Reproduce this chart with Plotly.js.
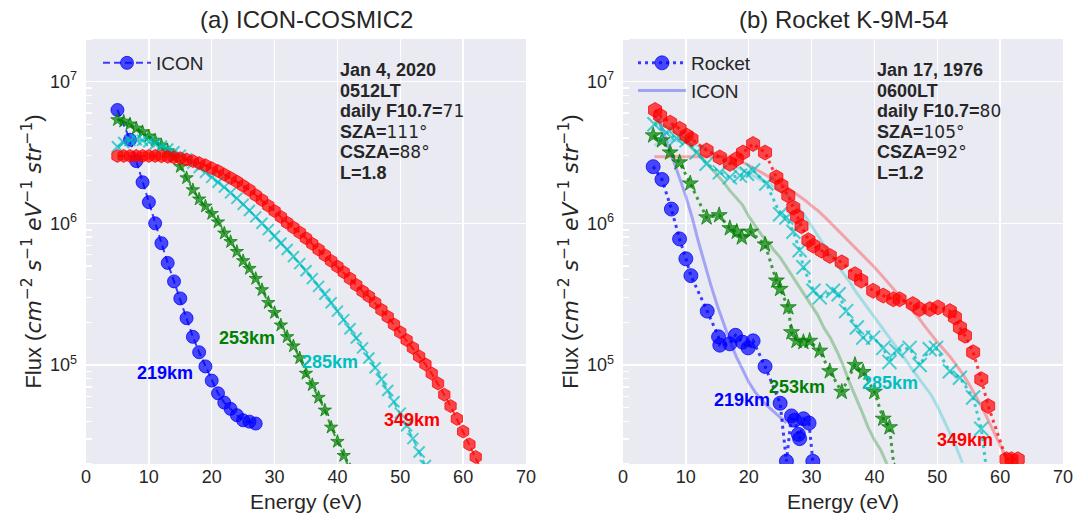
<!DOCTYPE html>
<html><head><meta charset="utf-8">
<script src="https://cdn.plot.ly/plotly-3.0.1.min.js"></script>
<style>html,body{margin:0;padding:0;background:#fff}#chart{width:1088px;height:520px}</style>
</head><body><div id="chart"></div><script>
// ---------- (a) ICON-COSMIC2 : ICON profiles ----------
const iconA_219_E = [5,7,8,9,10,11,12,13,14,15,16,17,18,19,20,21,22,23,24,25,26,27];
const iconA_219_F = [6.31e6,3.89e6,2.75e6,1.95e6,1.41e6,1.0e6,7.24e5,5.25e5,3.89e5,2.95e5,2.14e5,1.58e5,1.23e5,9.77e4,7.76e4,6.31e4,5.43e4,4.9e4,4.42e4,4.07e4,3.98e4,3.86e4];
const iconA_253_E = [5,6,7,8,9,10,11,12,13,14,15,16,17,18,19,20,21,22,23,24,25,26,27,28,29,30,31,32,33,34,35,36,37,38,39,40,41,42];
const iconA_253_F = [5.37e6,5.25e6,5.01e6,4.68e6,4.42e6,4.12e6,3.85e6,3.55e6,3.24e6,2.95e6,2.51e6,2.09e6,1.72e6,1.48e6,1.32e6,1.17e6,1.02e6,8.51e5,7.41e5,6.31e5,5.43e5,4.79e5,4.07e5,3.39e5,2.75e5,2.34e5,1.91e5,1.58e5,1.36e5,1.12e5,8.71e4,7.24e4,5.89e4,4.79e4,3.63e4,2.88e4,2.29e4,1.82e4];
const iconA_285_E = [5,6,7,8,9,10,11,12,13,14,15,16,17,18,19,20,21,22,23,24,25,26,27,28,29,30,31,32,33,34,35,36,37,38,39,40,41,42,43,44,45,46,47,48,49,50,51,52,53,54];
const iconA_285_F = [3.47e6,3.72e6,3.85e6,3.89e6,3.85e6,3.76e6,3.63e6,3.51e6,3.35e6,3.2e6,3.02e6,2.85e6,2.66e6,2.48e6,2.29e6,2.11e6,1.95e6,1.8e6,1.64e6,1.5e6,1.36e6,1.23e6,1.11e6,1.0e6,9.02e5,8.13e5,7.24e5,6.53e5,5.82e5,5.19e5,4.62e5,4.07e5,3.59e5,3.16e5,2.75e5,2.4e5,2.09e5,1.8e5,1.55e5,1.32e5,1.12e5,9.55e4,7.94e4,6.61e4,5.5e4,4.57e4,3.72e4,3.02e4,2.43e4,1.95e4];
const iconA_349_E = [5,6,7,8,9,10,11,12,13,14,15,16,17,18,19,20,21,22,23,24,25,26,27,28,29,30,31,32,33,34,35,36,37,38,39,40,41,42,43,44,45,46,47,48,49,50,51,52,53,54,55,56,57,58,59,60,61,62,63];
const iconA_349_F = [2.99e6,2.99e6,2.99e6,2.99e6,2.99e6,2.99e6,2.99e6,2.97e6,2.95e6,2.92e6,2.88e6,2.82e6,2.75e6,2.66e6,2.57e6,2.45e6,2.34e6,2.21e6,2.09e6,1.97e6,1.84e6,1.72e6,1.58e6,1.46e6,1.33e6,1.22e6,1.11e6,1.01e6,9.33e5,8.61e5,7.85e5,7.16e5,6.53e5,5.96e5,5.43e5,4.95e5,4.52e5,4.07e5,3.67e5,3.31e5,3.05e5,2.75e5,2.45e5,2.19e5,1.93e5,1.7e5,1.5e5,1.32e5,1.15e5,1.01e5,8.71e4,7.41e4,6.17e4,5.13e4,4.17e4,3.39e4,2.75e4,2.24e4,1.78e4];

// ---------- (b) Rocket K-9M-54 : ICON profiles ----------
const iconB_219_E = [5,6,7,8,9,10,11,12,13,14,15,16,17,18,19,20,21,22,23,24,25,26];
const iconB_219_F = [5.75e6,5.01e6,3.72e6,2.82e6,2.09e6,1.55e6,1.1e6,7.41e5,5.13e5,3.63e5,2.63e5,1.95e5,1.48e5,1.15e5,9.33e4,7.59e4,6.46e4,5.69e4,5.13e4,4.68e4,4.32e4,3.9e4];
const iconB_253_E = [5,6,7,8,9,10,11,12,13,14,15,16,17,18,19,20,21,22,23,24,25,26,27,28,29,30,31,32,33,34,35,36,37,38,39,40,41,42];
const iconB_253_F = [5.25e6,5.01e6,4.79e6,4.47e6,4.07e6,3.72e6,3.39e6,3.09e6,2.75e6,2.45e6,2.19e6,1.95e6,1.7e6,1.51e6,1.35e6,1.12e6,9.55e5,8.32e5,7.41e5,6.46e5,5.75e5,4.9e5,4.17e5,3.55e5,3.09e5,2.63e5,2.24e5,1.82e5,1.55e5,1.26e5,1.0e5,7.59e4,6.03e4,4.68e4,3.63e4,2.95e4,2.51e4,2.0e4];
const iconB_285_E = [5,6,7,8,9,10,11,12,13,14,15,16,17,18,19,20,21,22,23,24,25,26,27,28,29,30,31,32,33,34,35,36,37,38,39,40,41,42,43,44,45,46,47,48,49,50,51,52,53,54];
const iconB_285_F = [3.55e6,3.72e6,3.8e6,3.85e6,3.8e6,3.72e6,3.63e6,3.51e6,3.39e6,3.24e6,3.05e6,2.88e6,2.69e6,2.51e6,2.37e6,2.24e6,2.11e6,2.02e6,1.93e6,1.82e6,1.72e6,1.6e6,1.45e6,1.26e6,1.12e6,9.55e5,8.13e5,6.92e5,5.89e5,5.13e5,4.47e5,3.89e5,3.31e5,2.88e5,2.51e5,2.19e5,1.91e5,1.66e5,1.45e5,1.26e5,1.08e5,9.33e4,8.13e4,7.16e4,6.17e4,5.13e4,4.17e4,3.31e4,2.63e4,2.04e4];
const iconB_349_E = [5,6,7,8,9,10,11,12,13,14,15,16,17,18,19,20,21,22,23,24,25,26,27,28,29,30,31,32,33,34,35,36,37,38,39,40,41,42,43,44,45,46,47,48,49,50,51,52,53,54,55,56,57,58,59,60,61,62];
const iconB_349_F = [2.95e6,2.95e6,2.95e6,2.95e6,2.95e6,2.95e6,2.95e6,2.95e6,2.95e6,2.95e6,2.95e6,2.95e6,2.95e6,2.85e6,2.72e6,2.57e6,2.43e6,2.29e6,2.16e6,2.04e6,1.93e6,1.8e6,1.68e6,1.57e6,1.45e6,1.33e6,1.23e6,1.12e6,1.01e6,9.12e5,8.32e5,7.5e5,6.76e5,6.1e5,5.43e5,4.9e5,4.37e5,3.89e5,3.47e5,3.09e5,2.75e5,2.45e5,2.16e5,1.88e5,1.64e5,1.45e5,1.29e5,1.15e5,1.0e5,8.71e4,7.41e4,6.17e4,5.13e4,4.17e4,3.39e4,2.75e4,2.19e4,1.74e4];

// ---------- (b) Rocket K-9M-54 : rocket measurements ----------
const rock_219_E = [4.8,6.2,7.7,9.0,10.0,10.8,13.4,15.2,15.4,17.0,17.9,19.0,19.9,20.7,22.6,25.0,26.0,26.8,27.3,27.9,28.1,28.7,29.6,30.2];
const rock_219_F = [2.51e6,2.04e6,1.26e6,7.76e5,5.62e5,4.27e5,2.4e5,1.58e5,1.38e5,1.41e5,1.62e5,1.45e5,1.32e5,1.48e5,9.77e4,5.37e4,2.09e4,4.37e4,4.07e4,3.24e4,3.02e4,4.17e4,3.89e4,2.09e4];
const rock_253_E = [4.8,6.2,7.5,9.0,10.7,13.3,15.3,17.0,18.1,18.9,20.3,22.6,24.4,25.0,26.3,26.8,27.6,28.7,29.7,31.3,32.9,34.8,36.9,38.2,40.0,41.4,42.4,43.2];
const rock_253_F = [4.17e6,3.85e6,3.16e6,2.69e6,1.91e6,1.1e6,1.14e6,9.23e5,8.71e5,7.94e5,8.71e5,7.08e5,3.94e5,3.44e5,2.55e5,1.7e5,1.48e5,1.45e5,1.48e5,1.26e5,9.02e4,6.46e4,1.0e5,8.91e4,6.46e4,4.17e4,3.63e4,1.78e4];
const rock_285_E = [5.0,6.9,8.5,10.1,11.7,13.3,15.4,17.0,18.6,19.7,20.7,22.8,25.0,26.0,27.1,28.1,28.7,30.3,31.3,33.4,34.3,35.5,37.2,38.2,39.8,41.4,42.4,43.5,45.6,47.2,48.8,49.8,52.0,53.6,55.7,57.0,58.0];
const rock_285_F = [5.01e6,4.37e6,3.98e6,3.85e6,3.16e6,2.63e6,2.29e6,2.11e6,2.17e6,2.24e6,2.36e6,1.91e6,1.16e6,1.1e6,8.71e5,6.46e5,4.9e5,3.34e5,3.0e5,3.34e5,3.16e5,2.4e5,1.84e5,1.56e5,1.56e5,1.32e5,1.05e5,1.26e5,1.32e5,1.0e5,1.29e5,1.32e5,9.02e4,8.13e4,5.89e4,3.55e4,1.58e4];
const rock_349_E = [5.1,5.9,7.5,9.0,10.1,10.9,13.3,15.4,17.0,18.1,19.1,20.7,22.6,24.4,25.2,26.3,27.1,27.7,28.4,29.5,30.3,31.6,32.9,34.8,36.9,37.9,39.8,41.4,43.0,44.0,46.1,47.2,48.8,50.1,52.0,52.8,53.6,54.4,55.7,57.0,58.1,61.0,61.8,62.8];
const rock_349_F = [6.31e6,5.75e6,5.13e6,4.65e6,4.17e6,3.94e6,3.27e6,2.92e6,2.63e6,2.85e6,3.16e6,3.63e6,3.16e6,2.11e6,1.85e6,1.57e6,1.29e6,1.12e6,9.55e5,7.59e5,6.95e5,6.41e5,5.89e5,5.3e5,4.37e5,3.94e5,3.34e5,3.09e5,2.91e5,2.91e5,2.69e5,2.48e5,2.48e5,2.55e5,2.4e5,2.17e5,1.84e5,1.61e5,1.23e5,7.94e4,5.13e4,2.16e4,2.16e4,2.16e4];

// ---------- text ----------
const panelTitles = ['(a) ICON-COSMIC2', '(b) Rocket K-9M-54'];
const altLabels = ['219km', '253km', '285km', '349km'];
const infoA = [['Jan 4, 2020',''],['0512LT',''],['daily F10.7=','71'],['SZA=','111°'],['CSZA=','88°'],['L=1.8','']];
const infoB = [['Jan 17, 1976',''],['0600LT',''],['daily F10.7=','80'],['SZA=','105°'],['CSZA=','92°'],['L=1.2','']];
const yTickVals = [1e5, 1e6, 1e7];
const yTickText = ['10<sup>5</sup>', '10<sup>6</sup>', '10<sup>7</sup>'];

// ---------- geometry (pixels) ----------
const W = 1088, H = 520;
const L1 = 86, R1 = 526, L2 = 623, R2 = 1063, T = 39, B = 464;
const px = v => v / W, py = v => (H - v) / H;

const C = {b:[0,0,255], g:[0,128,0], c:[0,191,191], r:[255,0,0]};
const rgba = (k,a) => `rgba(${C[k][0]},${C[k][1]},${C[k][2]},${a})`;
const TXT = '#262626';
const FONT = 'Liberation Sans, Arial, sans-serif';
const MATH = 'font-family:DejaVu Sans;font-style:italic';
const MNUM = 'font-family:DejaVu Sans';

function iconA(x, y, k, sym, size, name, show){
  const isX = sym === 'x-thin';
  return {x, y, xaxis:'x', yaxis:'y', type:'scatter', mode:'lines+markers', name, showlegend:show, legend:'legend',
    line:{color:rgba(k,0.75), width:2, dash:'7px,4px'},
    marker:{symbol:sym, size, color:rgba(k,0.7), line:{color:rgba(k,isX?0.7:0.75), width:isX?2:1}}};
}
function iconB(x, y, k, name, show){
  return {x, y, xaxis:'x2', yaxis:'y2', type:'scatter', mode:'lines', name, showlegend:show, legend:'legend2',
    line:{color:rgba(k,0.3), width:3}};
}
function rock(x, y, k, sym, size, name, show){
  const isX = sym === 'x-thin';
  return {x, y, xaxis:'x2', yaxis:'y2', type:'scatter', mode:'lines+markers', name, showlegend:show, legend:'legend2',
    line:{color:rgba(k,0.75), width:3, dash:'3px,4px'},
    marker:{symbol:sym, size, color:rgba(k,0.7), line:{color:rgba(k,isX?0.7:0.75), width:isX?2:1}}};
}

const data = [
  iconA(iconA_219_E, iconA_219_F, 'b', 'circle', 13, 'ICON', true),
  iconA(iconA_253_E, iconA_253_F, 'g', 'star', 10, '253', false),
  iconA(iconA_285_E, iconA_285_F, 'c', 'x-thin', 11, '285', false),
  iconA(iconA_349_E, iconA_349_F, 'r', 'hexagon', 13, '349', false),
  rock(rock_219_E, rock_219_F, 'b', 'circle', 14, 'Rocket', true),
  iconB(iconB_219_E, iconB_219_F, 'b', 'ICON', true),
  iconB(iconB_253_E, iconB_253_F, 'g', 'ICON253', false),
  iconB(iconB_285_E, iconB_285_F, 'c', 'ICON285', false),
  iconB(iconB_349_E, iconB_349_F, 'r', 'ICON349', false),
  rock(rock_253_E, rock_253_F, 'g', 'star', 12, 'R253', false),
  rock(rock_285_E, rock_285_F, 'c', 'x-thin', 14, 'R285', false),
  rock(rock_349_E, rock_349_F, 'r', 'hexagon', 15, 'R349', false)
];

const minorVals = [];
for (const d of [1e4,1e5,1e6,1e7]) for (let m=2;m<=9;m++) minorVals.push(m*d);

const m = s => '<span style="'+MATH+'">'+s+'</span>';
const sup = s => '<sup><span style="'+MNUM+'">'+s+'</span></sup>';
const yTitle = 'Flux (' + m('cm') + sup('−2') + ' ' + m('s') + sup('−1') + ' ' + m('eV') + sup('−1') + ' ' + m('str') + sup('−1') + ')';
function yax(anchor){
  return {type:'log', range:[Math.log10(2e4), Math.log10(2e7)], tickmode:'array', tickvals:yTickVals, ticktext:yTickText,
    domain:[py(B), py(T)], anchor, showgrid:true, gridcolor:'#ffffff', gridwidth:1.3, zeroline:false, showline:false,
    ticks:'', ticklabelstandoff:8, tickfont:{family:FONT, size:18, color:TXT},
    minor:{tickmode:'array', tickvals:minorVals, ticks:'inside', ticklen:6, tickwidth:1.5, tickcolor:'#ffffff', showgrid:false},
    title:{text:yTitle, font:{family:FONT, size:22, color:TXT}, standoff:2}};
}
function xax(l, r, anchor){
  return {range:[0,70], dtick:10, domain:[px(l), px(r)], anchor, showgrid:true, gridcolor:'#ffffff', gridwidth:1.3,
    zeroline:false, showline:false, ticks:'', tickfont:{family:FONT, size:18, color:TXT},
    title:{text:'Energy (eV)', font:{family:FONT, size:21, color:TXT}, standoff:8}};
}

const annotations = [];
function addText(text, x, y, color, size, anchor, bold){
  annotations.push({text: bold ? '<b>'+text+'</b>' : text, xref:'paper', yref:'paper', x:px(x), y:py(y),
    xanchor:anchor, yanchor:'middle', showarrow:false, font:{family:FONT, size, color}});
}
addText(panelTitles[0], (L1+R1)/2, 20, TXT, 24, 'center', false);
addText(panelTitles[1], (L2+R2)/2, 20, TXT, 24, 'center', false);
const labColors = ['b','g','c','r'];
const labA = [[165,373],[247,338],[330,362],[412,420]];
const labB = [[742,400],[797,387],[890,383],[965,440]];
altLabels.forEach((t,i)=>{
  addText(t, labA[i][0], labA[i][1], rgba(labColors[i],1), 18, 'center', true);
  addText(t, labB[i][0], labB[i][1], rgba(labColors[i],1), 18, 'center', true);
});
function infoBlock(lines, x0){
  lines.forEach((ln,i)=>{
    let t = '<b>'+ln[0]+'</b>';
    if (ln[1]) t += '<span style="font-family:DejaVu Sans;font-weight:normal;font-size:17px">'+ln[1]+'</span>';
    annotations.push({text:t, xref:'paper', yref:'paper', x:px(x0), y:py(70 + i*20.6), xanchor:'left', yanchor:'middle',
      showarrow:false, font:{family:FONT, size:18, color:TXT}});
  });
}
infoBlock(infoA, 338);
infoBlock(infoB, 875);

const legFont = {family:FONT, size:19, color:TXT};
const layout = {
  width:W, height:H, margin:{l:0,r:0,t:0,b:0}, paper_bgcolor:'#ffffff', plot_bgcolor:'#EAEAF2',
  font:{family:FONT, color:TXT},
  xaxis:xax(L1,R1,'y'), yaxis:yax('x'),
  xaxis2:xax(L2,R2,'y2'), yaxis2:yax('x2'),
  legend:{x:px(98), y:py(44), xanchor:'left', yanchor:'top', bgcolor:'rgba(0,0,0,0)', font:legFont, itemwidth:48, tracegroupgap:0},
  legend2:{x:px(633), y:py(44), xanchor:'left', yanchor:'top', bgcolor:'rgba(0,0,0,0)', font:legFont, itemwidth:48, tracegroupgap:0},
  annotations, showlegend:true
};
Plotly.newPlot('chart', data, layout, {staticPlot:true});
</script></body></html>
